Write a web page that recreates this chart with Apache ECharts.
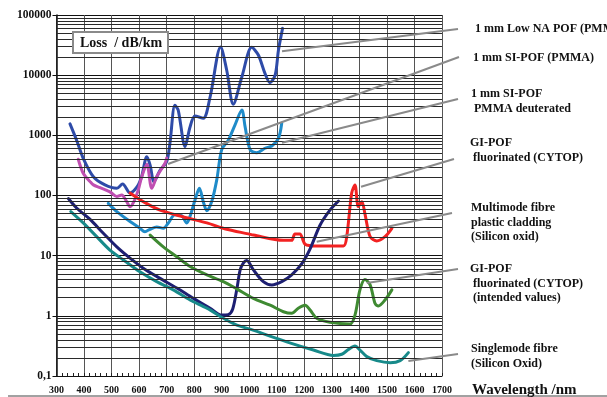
<!DOCTYPE html>
<html>
<head>
<meta charset="utf-8">
<script src="https://cdn.jsdelivr.net/npm/echarts@6/dist/echarts.min.js"></script>
<style>
  html, body { margin: 0; padding: 0; background: #fff; }
  #chart { width: 607px; height: 397px; }
</style>
</head>
<body>
<div id="chart"></div>
<script>
// Attenuation spectra of optical fibres (loss in dB/km vs. wavelength in nm)

const yTickLabels = { 0.1: '0,1', 1: '1', 10: '10', 100: '100', 1000: '1000', 10000: '10000', 100000: '100000' };

// 1 mm Low NA POF (PMMA)
const lowNaNm   = [349, 373, 397, 434, 476, 519, 540, 567, 593, 609, 628, 640, 654, 676, 700, 712, 730, 742, 767, 785, 803, 833, 858, 896, 918, 942, 973, 1009, 1033, 1057, 1075, 1094, 1106, 1121];
const lowNaLoss = [1550, 830, 415, 205, 150, 132, 155, 110, 140, 205, 440, 320, 170, 263, 363, 740, 3160, 2630, 650, 1380, 2090, 1920, 4380, 29500, 12200, 3300, 9300, 29000, 21600, 10700, 7500, 10000, 26000, 60000];

// 1 mm SI-POF (PMMA)
const siNm   = [379, 397, 422, 434, 458, 494, 519, 537, 555, 567, 581, 597, 609, 628, 646, 664, 694, 700];
const siLoss = [400, 234, 170, 150, 135, 115, 96, 102, 79, 65, 79, 124, 200, 330, 132, 205, 343, 420];

// 1 mm SI-POF PMMA deuterated
const deutNm   = [488, 519, 567, 603, 621, 640, 664, 688, 706, 730, 755, 773, 785, 803, 819, 833, 846, 864, 882, 900, 924, 948, 973, 985, 1003, 1027, 1057, 1082, 1106, 1118];
const deutLoss = [74, 54, 37, 28.5, 25, 27.5, 30, 28.5, 35, 48, 46, 35, 45, 84, 132, 79, 56, 80, 182, 580, 830, 1480, 2630, 1380, 580, 515, 610, 665, 890, 1585];

// GI-POF fluorinated (CYTOP)
const cytopNm   = [567, 615, 676, 761, 846, 918, 997, 1015, 1124, 1154, 1166, 1184, 1203, 1245, 1342, 1354, 1372, 1384, 1396, 1409, 1420, 1439, 1463, 1493, 1518];
const cytopLoss = [110, 79, 57, 44, 35, 27.5, 23, 22, 18, 18, 23, 23, 15.5, 14.5, 14.5, 20.7, 110, 150, 65, 79, 50, 20.7, 17.6, 20.7, 28.5];

// Multimode fibre, plastic cladding (silicon oxide)
const mmNm   = [343, 373, 422, 470, 519, 567, 615, 676, 737, 797, 858, 900, 924, 940, 955, 967, 979, 991, 1015, 1051, 1082, 1118, 1154, 1191, 1221, 1257, 1293, 1324];
const mmLoss = [89, 62, 40, 23.6, 14, 9.1, 6.2, 4.2, 2.9, 1.95, 1.34, 1.03, 1.05, 1.3, 2.8, 5.8, 7.6, 8.3, 5.8, 3.7, 3.26, 3.7, 4.8, 7.4, 13, 32, 57, 81];

// GI-POF fluorinated (CYTOP), intended values
const cytopGoalNm   = [640, 688, 737, 785, 846, 906, 955, 1015, 1076, 1124, 1154, 1178, 1203, 1221, 1245, 1293, 1366, 1384, 1402, 1420, 1439, 1457, 1469, 1493, 1518];
const cytopGoalLoss = [22, 14, 9.6, 6.6, 4.8, 3.7, 2.8, 1.95, 1.5, 1.17, 1.1, 1.34, 1.5, 1.25, 0.91, 0.78, 0.73, 1.03, 2.7, 4, 3.26, 1.6, 1.46, 1.83, 2.7];

// Singlemode fibre (silicon oxide)
const smNm   = [352, 397, 446, 494, 543, 603, 664, 724, 785, 846, 906, 955, 1003, 1136, 1233, 1306, 1336, 1360, 1384, 1402, 1427, 1463, 1512, 1548, 1578];
const smLoss = [54, 35, 20.7, 12.4, 8.5, 5.4, 3.7, 2.7, 1.83, 1.34, 0.91, 0.7, 0.6, 0.37, 0.27, 0.22, 0.23, 0.275, 0.315, 0.27, 0.21, 0.18, 0.166, 0.18, 0.245];

const zip = (xs, ys) => xs.map((x, i) => [x, ys[i]]);

const curves = [
  { name: '1 mm Low NA POF (PMMA)', nm: lowNaNm, loss: lowNaLoss, color: '#2e4ba8' },
  { name: '1 mm SI-POF (PMMA)', nm: siNm, loss: siLoss, color: '#c04fb2' },
  { name: '1 mm SI-POF PMMA deuterated', nm: deutNm, loss: deutLoss, color: '#1f8bc9' },
  { name: 'GI-POF fluorinated (CYTOP)', nm: cytopNm, loss: cytopLoss, color: '#f22222' },
  { name: 'Multimode fibre plastic cladding (Silicon oxid)', nm: mmNm, loss: mmLoss, color: '#1d1f72' },
  { name: 'GI-POF fluorinated (CYTOP) (intended values)', nm: cytopGoalNm, loss: cytopGoalLoss, color: '#3f8a32' },
  { name: 'Singlemode fibre (Silicon Oxid)', nm: smNm, loss: smLoss, color: '#178a8a' }
];

// Label blocks on the right, with the curve point each leader line starts from
const labelBlocks = [
  { lines: ['1 mm Low NA POF (PMMA)'], x: 475, y: 29, anchor: [1119, 25000], end: [458, 29] },
  { lines: ['1 mm SI-POF (PMMA)'], x: 473, y: 58, anchor: [705, 334], end: [459, 57] },
  { lines: ['1 mm SI-POF', ' PMMA deuterated'], x: 471, y: 94, anchor: [1119, 755], end: [458, 99] },
  { lines: ['GI-POF', ' fluorinated (CYTOP)'], x: 470, y: 143, anchor: [1406, 140], end: [454, 159] },
  { lines: ['Multimode fibre', 'plastic cladding', '(Silicon oxid)'], x: 471, y: 208, anchor: [1245, 17], end: [452, 213] },
  { lines: ['GI-POF', ' fluorinated (CYTOP)', ' (intended values)'], x: 470, y: 269, anchor: [1427, 3.5], end: [458, 269] },
  { lines: ['Singlemode fibre', '(Silicon Oxid)'], x: 471, y: 349, anchor: [1578, 0.178], end: [458, 354] }
];

// Log minor grid lines at 2..9 of every decade
const minorGrid = [];
for (let d = 0.1; d < 100000; d *= 10) {
  for (let k = 2; k <= 9; k++) minorGrid.push({ yAxis: +(d * k).toPrecision(3) });
}

const SERIF = 'Liberation Serif, Times New Roman, serif';

const chart = echarts.init(document.getElementById('chart'), null, { renderer: 'canvas', width: 607, height: 397 });

const series = [
  {
    type: 'line',
    name: 'grid',
    data: [],
    silent: true,
    z: 1,
    markLine: {
      silent: true,
      symbol: 'none',
      animation: false,
      label: { show: false },
      lineStyle: { color: '#2a2a2a', width: 1, type: 'solid' },
      data: minorGrid
    }
  }
].concat(curves.map(c => ({
  type: 'line',
  name: c.name,
  data: zip(c.nm, c.loss),
  showSymbol: false,
  symbol: 'none',
  smooth: 0.3,
  z: 3,
  lineStyle: { color: c.color, width: 3, cap: 'round', join: 'round' }
})));

chart.setOption({
  animation: false,
  backgroundColor: '#ffffff',
  grid: { left: 56.5, right: 165, top: 15, bottom: 21, containLabel: false },
  xAxis: {
    type: 'value',
    min: 300,
    max: 1700,
    interval: 100,
    axisLine: { show: true, lineStyle: { color: '#111', width: 1 } },
    axisTick: { show: true, inside: true, length: 3, lineStyle: { color: '#222' } },
    minorTick: { show: true, splitNumber: 5, length: 3, lineStyle: { color: '#222' } },
    splitLine: { show: true, lineStyle: { color: '#555', width: 1 } },
    axisLabel: {
      color: '#111', fontFamily: SERIF, fontWeight: 'bold', fontSize: 10, margin: 9,
      formatter: v => String(v)
    }
  },
  yAxis: {
    type: 'log',
    logBase: 10,
    min: 0.1,
    max: 100000,
    axisLine: { show: true, lineStyle: { color: '#111', width: 1.5 } },
    axisTick: { show: true, length: 4, lineStyle: { color: '#111' } },
    splitLine: { show: true, lineStyle: { color: '#111', width: 1 } },
    axisLabel: {
      color: '#111', fontFamily: SERIF, fontWeight: 'bold', fontSize: 11.5, margin: 5,
      formatter: v => yTickLabels[+v.toPrecision(3)] || ''
    }
  },
  series: series
});

// Annotation layer: title box, axis caption, leader lines and curve labels
const graphics = [];
labelBlocks.forEach(b => {
  const p = chart.convertToPixel({ gridIndex: 0 }, b.anchor);
  graphics.push({
    type: 'line', silent: true, z: 5,
    shape: { x1: p[0], y1: p[1], x2: b.end[0], y2: b.end[1] },
    style: { stroke: '#8a8a8a', lineWidth: 2 }
  });
  b.lines.forEach((t, i) => {
    graphics.push({
      type: 'text', silent: true, z: 6,
      x: b.x, y: b.y + i * 14.5,
      style: { text: t, fill: '#111', font: 'bold 12px ' + SERIF, textVerticalAlign: 'middle', textAlign: 'left' }
    });
  });
});
graphics.push({
  type: 'rect', silent: true, z: 6,
  shape: { x: 73, y: 32, width: 95, height: 21 },
  style: { fill: '#fff', stroke: '#8a8a8a', lineWidth: 2 }
});
graphics.push({
  type: 'text', silent: true, z: 7, x: 80, y: 43,
  style: { text: 'Loss  / dB/km', fill: '#111', font: 'bold 14px ' + SERIF, textVerticalAlign: 'middle' }
});
graphics.push({
  type: 'text', silent: true, z: 7, x: 472, y: 390,
  style: { text: 'Wavelength /nm', fill: '#111', font: 'bold 15px ' + SERIF, textVerticalAlign: 'middle' }
});
graphics.push({
  type: 'line', silent: true, z: 5,
  shape: { x1: 8, y1: 396, x2: 607, y2: 396 },
  style: { stroke: '#444', lineWidth: 1 }
});
chart.setOption({ graphic: graphics });
</script>
</body>
</html>
